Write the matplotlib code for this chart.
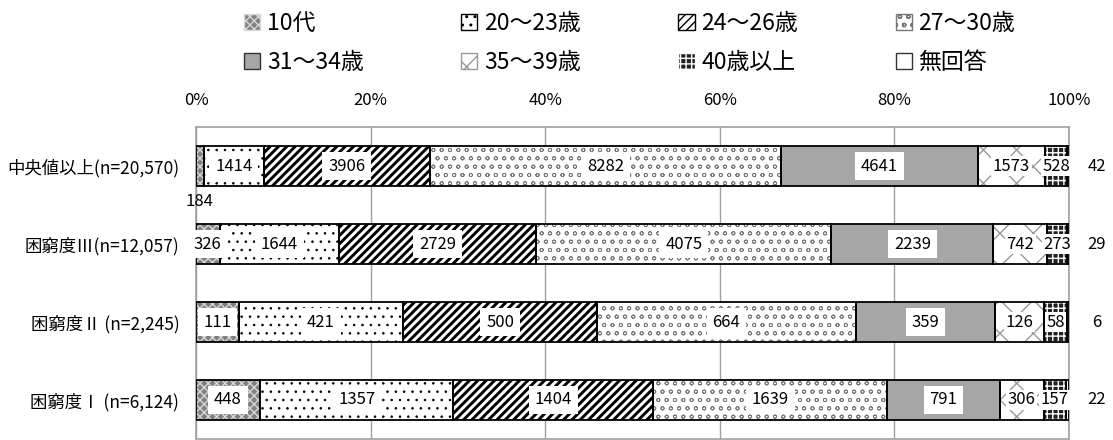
import numpy as np
import matplotlib
matplotlib.use("Agg")
import matplotlib.pyplot as plt
from matplotlib.patches import Patch

plt.rcParams['font.family'] = ['Noto Sans CJK JP', 'DejaVu Sans']

# data
categories = ['中央値以上(n=20,570)', '困窮度Ⅲ(n=12,057)', '困窮度Ⅱ (n=2,245)', '困窮度Ⅰ (n=6,124)']
series = ['10代', '20〜23歳', '24〜26歳', '27〜30歳', '31〜34歳', '35〜39歳', '40歳以上', '無回答']
age10 = [184, 326, 111, 448]
age20_23 = [1414, 1644, 421, 1357]
age24_26 = [3906, 2729, 500, 1404]
age27_30 = [8282, 4075, 664, 1639]
age31_34 = [4641, 2239, 359, 791]
age35_39 = [1573, 742, 126, 306]
age40 = [528, 273, 58, 157]
no_answer = [42, 29, 6, 22]
xticklabels = ['0%', '20%', '40%', '60%', '80%', '100%']

values = np.array([age10, age20_23, age24_26, age27_30, age31_34, age35_39, age40, no_answer], dtype=float)
totals = values.sum(axis=0)
pct = values / totals * 100

# styles: facecolor, hatch, hatch colour, hatch linewidth
styles = [
    ('#808080', 'xxxx', '#d8d8d8', 1.0),
    ('white', '..', 'black', 0.6),
    ('white', '////', 'black', 2.1),
    ('white', 'oo', '#777777', 0.6),
    ('#a6a6a6', '', '#a6a6a6', 1.0),
    ('white', 'x', '#999999', 1.0),
    ('#222222', '+++', 'white', 1.0),
    ('white', '', 'white', 1.0),
]


def hatched(patches, lw):
    for p in patches:
        if hasattr(p, 'set_hatch_linewidth'):
            p.set_hatch_linewidth(lw)


fig = plt.figure(figsize=(11.13, 4.40), dpi=100)
ax = fig.add_axes([0.1761, 0.0023, 0.7844, 0.709])

fs = 12
y = np.arange(len(categories))
h = 0.51
left = np.zeros(len(categories))
for i, (fc, hatch, hc, hlw) in enumerate(styles):
    with plt.rc_context({'hatch.linewidth': hlw}):
        bars = ax.barh(y, pct[i], left=left, height=h, color=fc, hatch=hatch, edgecolor=hc, linewidth=0, zorder=2)
    hatched(bars, hlw)
    ax.barh(y, pct[i], left=left, height=h, fill=False, edgecolor='black', linewidth=1.3, zorder=3)
    for j in range(len(categories)):
        v = int(values[i, j])
        cx = left[j] + pct[i, j] / 2
        box = dict(boxstyle='square,pad=0.35', facecolor='white', edgecolor='none')
        if i == 0 and j == 0:
            ax.text(cx, 0.46, str(v), ha='center', va='center', fontsize=fs, zorder=5)
        elif i == 7:
            ax.text(103.2, y[j], str(v), ha='center', va='center', fontsize=fs, zorder=5)
        elif i >= 5:
            ax.text(cx, y[j], str(v), ha='center', va='center', fontsize=fs, zorder=5,
                    bbox=dict(boxstyle='square,pad=0.1', facecolor='white', edgecolor='none'))
        else:
            ax.text(cx, y[j], str(v), ha='center', va='center', fontsize=fs, zorder=5, bbox=box)
    left += pct[i]

ax.set_xlim(0, 100)
ax.set_ylim(3.5, -0.5)
ax.set_xticks(np.arange(0, 101, 20))
ax.set_xticklabels(xticklabels, fontsize=fs)
ax.xaxis.tick_top()
ax.set_yticks(y)
ax.set_yticklabels(categories, fontsize=12.5)
ax.tick_params(length=0, axis='x', pad=13)
ax.tick_params(length=0, axis='y', pad=12)
ax.grid(axis='x', color='#a0a0a0', linewidth=1, zorder=0)
ax.set_axisbelow(True)
for s in ax.spines.values():
    s.set_color('#a0a0a0')
    s.set_linewidth(1.2)

handles = []
for fc, hatch, hc, hlw in styles:
    with plt.rc_context({'hatch.linewidth': hlw}):
        p = Patch(facecolor=fc, hatch=hatch, edgecolor=hc if hatch else '#333333')
    hatched([p], hlw)
    handles.append(p)
handles[-1] = Patch(facecolor='white', edgecolor='#333333')
# legend fills column by column; reorder so it reads row by row
order = [0, 4, 1, 5, 2, 6, 3, 7]
leg = fig.legend([handles[k] for k in order], [series[k] for k in order], loc='upper left',
                 bbox_to_anchor=(0.201, 1.02), ncol=4,
                 frameon=False, fontsize=16.5, handlelength=0.7, handleheight=0.7,
                 handletextpad=0.3, columnspacing=4.25, labelspacing=0.72)

fig.savefig('out.png', dpi=100)
